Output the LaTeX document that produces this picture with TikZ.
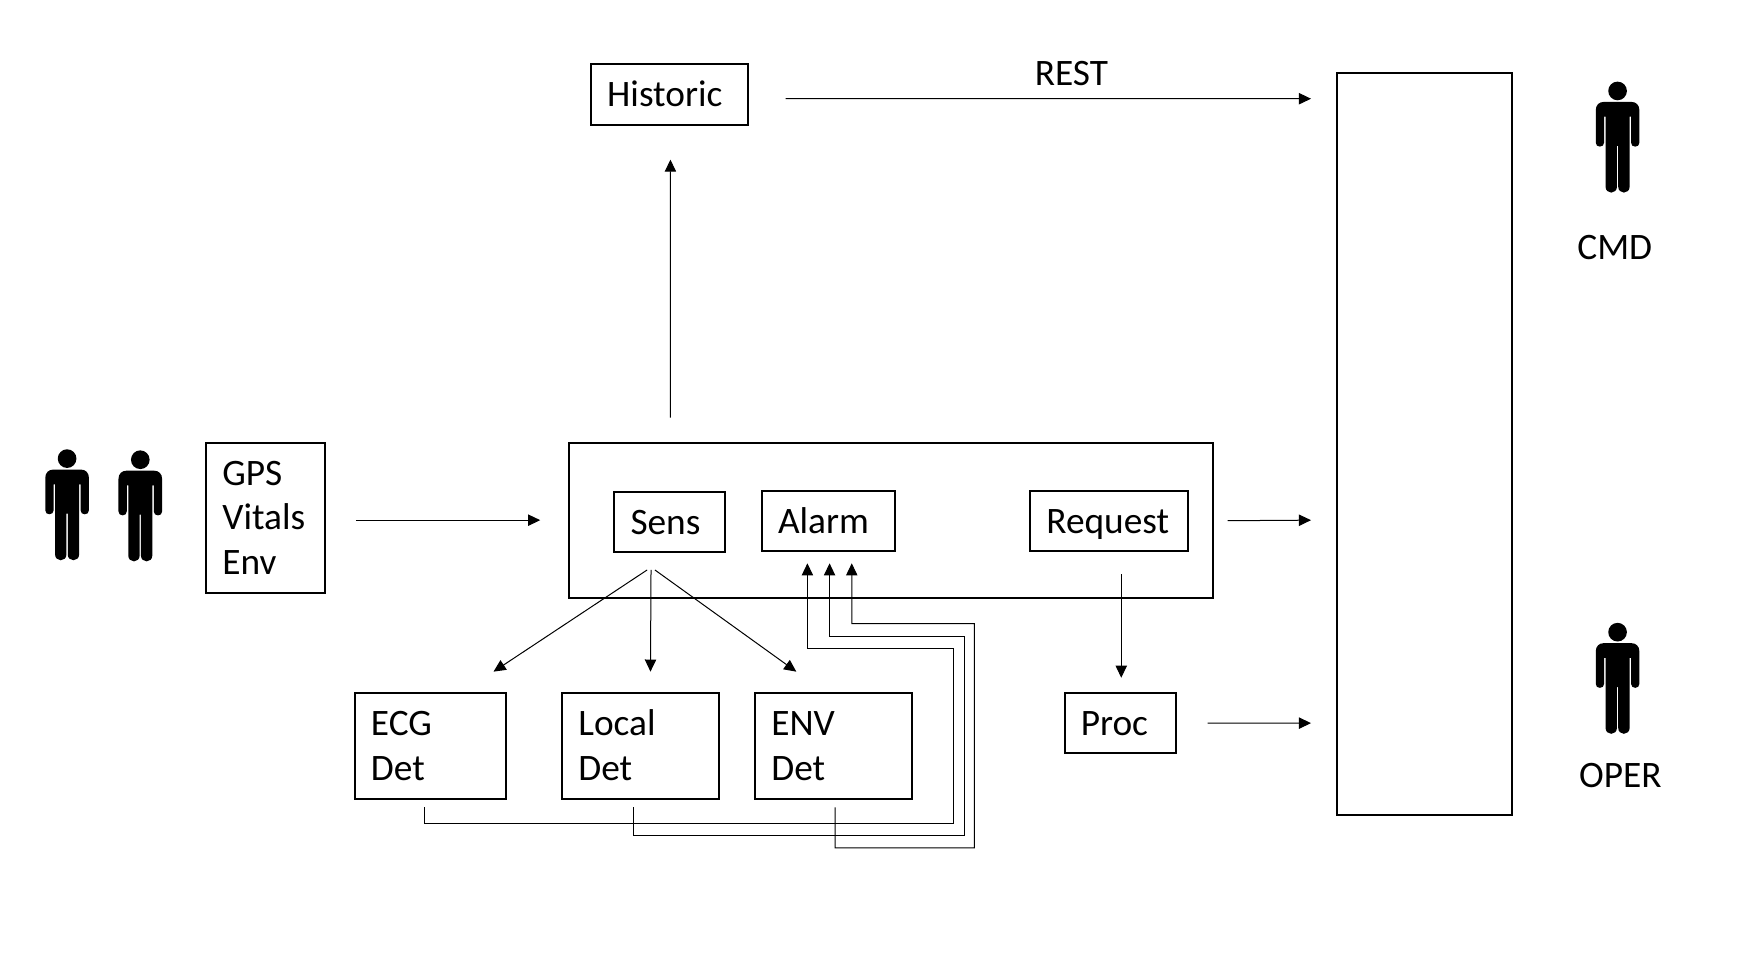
\documentclass[tikz,border=0pt]{standalone}
\usepackage{fontspec}
\setmainfont{Carlito}
\usetikzlibrary{arrows.meta}
\def\uu{0.8318pt}
\newcommand\ls{\rule[-7pt]{0pt}{32pt}}
\tikzset{
  mybox/.style n args={2}{draw=black,line width=1.5pt,inner xsep=0pt,inner ysep=0pt,
    minimum width={#1*\uu},minimum height={#2*\uu},text width={(#1-29)*\uu},align=left,
    font=\fontsize{28}{33.7}\selectfont},
  plainbox/.style n args={2}{draw=black,line width=1.5pt,minimum width={#1*\uu},minimum height={#2*\uu}},
  lbl/.style={inner sep=0pt,font=\fontsize{28}{33.7}\selectfont},
  arr/.style={line width=0.75pt,-{Triangle[length=9.1pt,width=8.5pt]}},
  person/.pic={
    \fill[black] (0,0) circle (28);
    \fill[black] (-65.5,58)
       .. controls (-65.5,42) and (-55,33) .. (-42,33) -- (42,33)
       .. controls (55,33) and (65.5,42) .. (65.5,58)
       -- (65.5,155) .. controls (65.5,163) and (60,167) .. (53,167)
       .. controls (46,167) and (40.5,163) .. (40.5,155)
       -- (40.5,77) -- (36,77) -- (36,288)
       .. controls (36,298) and (28,305) .. (19,305)
       .. controls (10,305) and (2,298) .. (2,288)
       -- (2,165) -- (-2,165) -- (-2,288)
       .. controls (-2,298) and (-10,305) .. (-19,305)
       .. controls (-28,305) and (-36,298) .. (-36,288)
       -- (-36,77) -- (-40.5,77) -- (-40.5,155)
       .. controls (-40.5,163) and (-46,167) .. (-53,167)
       .. controls (-60,167) and (-65.5,163) .. (-65.5,155) -- cycle;
  }
}
\begin{document}
\begin{tikzpicture}[x=0.8318pt,y=-0.8318pt]
\useasboundingbox (0,0) rectangle (1568,868.3);
% boxes
\node[mybox={141.5}{55}] (hist) at (603.75,85.5) {\ls Historic};
\node[plainbox={157.5}{669}] (big) at (1284.25,400.5) {};
\node[plainbox={581}{140}] (main) at (803.5,469) {};
\node[mybox={107}{136}] (gps) at (239.5,467) {\ls GPS\\\ls Vitals\\\ls Env};
\node[mybox={100}{54}] (sens) at (604,471) {\ls Sens};
\node[mybox={120}{54}] (alarm) at (747,470) {\ls Alarm};
\node[mybox={142}{54}] (req) at (1000,470) {\ls Request};
\node[mybox={136}{95}] (ecg) at (388,672.5) {\ls ECG\\\ls Det};
\node[mybox={141}{95}] (local) at (577.5,672.5) {\ls Local\\\ls Det};
\node[mybox={141}{95}] (env) at (751.5,672.5) {\ls ENV\\\ls Det};
\node[mybox={100}{54}] (proc) at (1010,652) {\ls Proc};
% labels
\node[lbl] (rest) at (966,66) {REST};
\node[lbl] (cmd) at (1456,223) {CMD};
\node[lbl] (oper) at (1461,699) {OPER};
% people
\pic[scale=0.3005] at (60.5,413.5) {person};
\pic[scale=0.3005] at (126.5,414.5) {person};
\pic[scale=0.3005] at (1458.5,82) {person};
\pic[scale=0.3005] at (1458.5,570) {person};
% connectors
\draw[arr] ([shift={(33,3.5)}]hist.east) -- ([shift={(-22.5,-311.5)}]big.west);
\draw[arr] ([shift={(-199,-21.5)}]main.north) -- ([shift={(0.75,30)}]hist.south);
\draw[arr] ([shift={(27,2)}]gps.east) -- ([shift={(-25,0)}]main.west);
\draw[arr] ([shift={(12,0.5)}]main.east) -- ([shift={(-22.5,68.5)}]big.west);
\draw[arr] ([shift={(28,0)}]proc.east) -- ([shift={(-22.5,251.5)}]big.west);
\draw[arr] ([shift={(11,20)}]req.south) -- ([shift={(1,-13)}]proc.north);
\draw[arr] ([shift={(-20.5,15)}]sens.south) -- ([shift={(57,-18.5)}]ecg.north);
\draw[arr] ([shift={(-17,15)}]sens.south) -- ([shift={(9,-18.5)}]local.north);
\draw[arr] ([shift={(-13.5,15)}]sens.south) -- ([shift={(-33.5,-18.5)}]env.north);
\draw[arr] ([shift={(-5,7)}]ecg.south) -- ++(0,15) -- ++(476.5,0) -- ++(0,-158) -- ++(-131.5,0) -- ([shift={(-19,10)}]alarm.south);
\draw[arr] ([shift={(-6,7)}]local.south) -- ++(0,25) -- ++(298,0) -- ++(0,-179) -- ++(-121.5,0) -- ([shift={(1,10)}]alarm.south);
\draw[arr] ([shift={(1.5,7)}]env.south) -- ++(0,36.5) -- ++(125.5,0) -- ++(0,-202) -- ++(-110.5,0) -- ([shift={(21,10)}]alarm.south);
\end{tikzpicture}
\end{document}
